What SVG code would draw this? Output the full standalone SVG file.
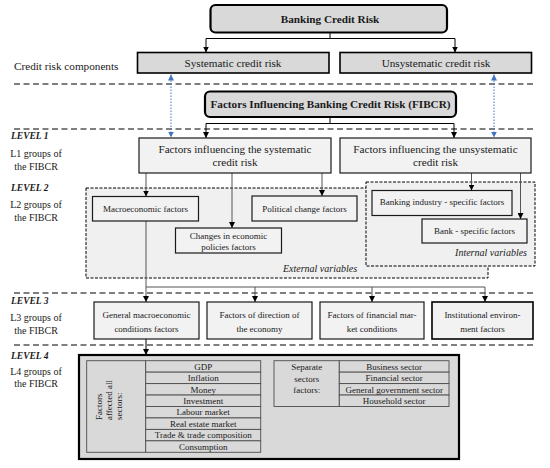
<svg xmlns="http://www.w3.org/2000/svg" width="550" height="468" viewBox="0 0 550 468">
<defs>
<marker id="arr" viewBox="0 0 10 10" refX="10" refY="5" markerWidth="6" markerHeight="6" markerUnits="userSpaceOnUse" orient="auto"><path d="M0,0 L10,5 L0,10 z" fill="#000"/></marker>
<marker id="barr" viewBox="0 0 10 10" refX="10" refY="5" markerWidth="6" markerHeight="6" markerUnits="userSpaceOnUse" orient="auto-start-reverse"><path d="M0,0 L10,5 L0,10 z" fill="#4472c4"/></marker>
</defs>
<style>
text{font-family:"Liberation Serif","Times New Roman",serif;fill:#1a1a1a;}
.c{text-anchor:middle;}
.b{font-weight:bold;}
.lv{font-weight:bold;font-style:italic;font-size:9.5px;}
.gl{font-size:10px;text-anchor:middle;}
.t11{font-size:11.2px;}
.t9{font-size:9px;}
.it{font-style:italic;font-size:10px;}
.main{fill:#d9d9d9;stroke:#000;stroke-width:2.2;}
.comp{fill:#d9d9d9;stroke:#000;stroke-width:1.6;}
.lt{fill:#f2f2f2;stroke:#1a1a1a;stroke-width:1.2;}
.reg{fill:#f0f0f0;stroke:#000;stroke-width:1;stroke-dasharray:3,1.5;}
.cell{fill:#d9d9d9;stroke:#4d4d4d;stroke-width:0.9;}
.lvl{stroke:#000;stroke-width:1.2;stroke-dasharray:6,3.5;fill:none;}
.con{fill:none;stroke:#000;stroke-width:1;}
.gcon{fill:none;stroke:#555;stroke-width:1;}
.blue{fill:none;stroke:#4472c4;stroke-width:1;stroke-dasharray:1.5,1.5;}
</style>

<g id="level-lines">
<line class="lvl" x1="14" y1="84" x2="535" y2="84"/>
<line class="lvl" x1="14" y1="129" x2="535" y2="129"/>
<line class="lvl" x1="14" y1="293" x2="535" y2="293"/>
<line class="lvl" x1="14" y1="345" x2="535" y2="345"/>
</g>

<g id="labels">
<text x="14" y="70" class="t11">Credit risk components</text>
<text x="11" y="139" class="lv">LEVEL 1</text>
<text x="36" y="157" class="gl">L1 groups of</text>
<text x="36" y="169.5" class="gl">the FIBCR</text>
<text x="11" y="191" class="lv">LEVEL 2</text>
<text x="36" y="208" class="gl">L2 groups of</text>
<text x="36" y="221" class="gl">the FIBCR</text>
<text x="11" y="304" class="lv">LEVEL 3</text>
<text x="36" y="320.5" class="gl">L3 groups of</text>
<text x="36" y="334" class="gl">the FIBCR</text>
<text x="11" y="359" class="lv">LEVEL 4</text>
<text x="36" y="375" class="gl">L4 groups of</text>
<text x="36" y="387" class="gl">the FIBCR</text>
</g>

<g id="external-variables">
<rect class="reg" x="86" y="188" width="402" height="90"/>
<text x="320" y="271.5" class="it c">External variables</text>
</g>
<g id="internal-variables">
<rect class="reg" x="366" y="182" width="169" height="84"/>
<text x="527" y="256" class="it" text-anchor="end">Internal variables</text>
</g>

<g id="connectors">
<path class="con" d="M330,32 V38.5 H206 V52.5" marker-end="url(#arr)"/>
<path class="con" d="M330,38.5 H455 V52.5" marker-end="url(#arr)"/>
<path class="con" d="M330,117 V123.5 H206 V138" marker-end="url(#arr)"/>
<path class="con" d="M330,123.5 H454 V138" marker-end="url(#arr)"/>
<path class="blue" d="M171,74.5 V137.5" marker-start="url(#barr)" marker-end="url(#barr)"/>
<path class="blue" d="M494,74.5 V137.5" marker-start="url(#barr)" marker-end="url(#barr)"/>
<path class="gcon" d="M146,173 V196.5" marker-end="url(#arr)"/>
<path class="gcon" d="M232,173 V228" marker-end="url(#arr)"/>
<path class="gcon" d="M322,173 V196" marker-end="url(#arr)"/>
<path class="gcon" d="M471.5,173 V190.5" marker-end="url(#arr)"/>
<path class="gcon" d="M520.5,173 V219" marker-end="url(#arr)"/>
<path class="gcon" d="M146,221 V302" marker-end="url(#arr)"/>
<path class="gcon" d="M146,287 H485 V302" marker-end="url(#arr)"/>
<path class="gcon" d="M255,287 V302" marker-end="url(#arr)"/>
<path class="gcon" d="M372,287 V302" marker-end="url(#arr)"/>
<path class="con" d="M146,339 V355" marker-end="url(#arr)"/>
</g>

<g id="banking-credit-risk">
<rect class="main" x="210.5" y="5" width="236.5" height="27.5" rx="5"/>
<text x="330" y="22.5" class="t11 b c">Banking Credit Risk</text>
</g>
<g id="systematic-credit-risk">
<rect class="comp" x="137.5" y="52.5" width="191.5" height="20.5"/>
<text x="233" y="67" class="t11 c">Systematic credit risk</text>
</g>
<g id="unsystematic-credit-risk">
<rect class="comp" x="340" y="52.5" width="191.5" height="20.5"/>
<text x="436" y="67" class="t11 c">Unsystematic credit risk</text>
</g>
<g id="fibcr">
<rect class="main" x="205" y="91.5" width="251" height="25.5" rx="5"/>
<text x="330.5" y="108" class="t11 b c">Factors Influencing Banking Credit Risk (FIBCR)</text>
</g>

<g id="l1-systematic">
<rect class="lt" x="139" y="138" width="192" height="35"/>
<text x="235" y="152.5" class="t11 c">Factors influencing the systematic</text>
<text x="235" y="166" class="t11 c">credit risk</text>
</g>
<g id="l1-unsystematic">
<rect class="lt" x="340" y="138" width="191" height="35"/>
<text x="435.5" y="152.5" class="t11 c">Factors influencing the unsystematic</text>
<text x="435.5" y="166" class="t11 c">credit risk</text>
</g>

<g id="macroeconomic-factors">
<rect class="lt" x="92.5" y="196.5" width="106" height="24.5"/>
<text x="145.5" y="212" class="t9 c">Macroeconomic factors</text>
</g>
<g id="political-change-factors">
<rect class="lt" x="252" y="196" width="105" height="25"/>
<text x="304.5" y="211.5" class="t9 c">Political change factors</text>
</g>
<g id="changes-economic-policies">
<rect class="lt" x="175.5" y="228" width="106" height="25"/>
<text x="228.5" y="238.5" class="t9 c">Changes in economic</text>
<text x="228.5" y="249.5" class="t9 c">policies factors</text>
</g>
<g id="banking-industry-factors">
<rect class="lt" x="372" y="190.5" width="140" height="25"/>
<text x="442" y="205" class="t9 c">Banking industry - specific factors</text>
</g>
<g id="bank-specific-factors">
<rect class="lt" x="422" y="219" width="105" height="24"/>
<text x="474.5" y="234" class="t9 c">Bank - specific factors</text>
</g>

<g id="general-macro-conditions">
<rect class="lt" x="94" y="302" width="105" height="37"/>
<text x="146.5" y="317.5" class="t9 c">General macroeconomic</text>
<text x="146.5" y="331.5" class="t9 c">conditions factors</text>
</g>
<g id="direction-of-economy">
<rect class="lt" x="207" y="302" width="105" height="37"/>
<text x="259.5" y="317.5" class="t9 c">Factors of direction of</text>
<text x="259.5" y="331.5" class="t9 c">the economy</text>
</g>
<g id="financial-market-conditions">
<rect class="lt" x="320" y="302" width="104" height="37"/>
<text x="372" y="317.5" class="t9 c">Factors of financial mar-</text>
<text x="372" y="331.5" class="t9 c">ket conditions</text>
</g>
<g id="institutional-environment">
<rect class="lt" x="432" y="302" width="101" height="37" style="stroke-width:1.6;stroke:#000"/>
<text x="482.5" y="317.5" class="t9 c">Institutional environ-</text>
<text x="482.5" y="331.5" class="t9 c">ment factors</text>
</g>

<g id="level4">
<rect x="79" y="355" width="380" height="104" fill="#d9d9d9" stroke="#000" stroke-width="2.2"/>
<g id="all-sectors-table">
<rect class="cell" x="86.7" y="360.7" width="59" height="91.6"/>
<text class="t9" transform="translate(102,420) rotate(-90)">Factors</text>
<text class="t9" transform="translate(112,420) rotate(-90)">affected all</text>
<text class="t9" transform="translate(122,420) rotate(-90)">sectors:</text>
<rect class="cell" x="145.7" y="360.7" width="115" height="11.45"/>
<rect class="cell" x="145.7" y="372.15" width="115" height="11.45"/>
<rect class="cell" x="145.7" y="383.6" width="115" height="11.45"/>
<rect class="cell" x="145.7" y="395.05" width="115" height="11.45"/>
<rect class="cell" x="145.7" y="406.5" width="115" height="11.45"/>
<rect class="cell" x="145.7" y="417.95" width="115" height="11.45"/>
<rect class="cell" x="145.7" y="429.4" width="115" height="11.45"/>
<rect class="cell" x="145.7" y="440.85" width="115" height="11.45"/>
<text x="203.2" y="369.6" class="t9 c">GDP</text>
<text x="203.2" y="381.1" class="t9 c">Inflation</text>
<text x="203.2" y="392.5" class="t9 c">Money</text>
<text x="203.2" y="404" class="t9 c">Investment</text>
<text x="203.2" y="415.4" class="t9 c">Labour market</text>
<text x="203.2" y="426.9" class="t9 c">Real estate market</text>
<text x="203.2" y="438.3" class="t9 c">Trade &amp; trade composition</text>
<text x="203.2" y="449.8" class="t9 c">Consumption</text>
</g>
<g id="separate-sectors-table">
<rect class="cell" x="274" y="360.7" width="65.3" height="45.8"/>
<text x="306.7" y="370" class="t9 c">Separate</text>
<text x="306.7" y="381.5" class="t9 c">sectors</text>
<text x="306.7" y="393" class="t9 c">factors:</text>
<rect class="cell" x="339.3" y="360.7" width="109.7" height="11.45"/>
<rect class="cell" x="339.3" y="372.15" width="109.7" height="11.45"/>
<rect class="cell" x="339.3" y="383.6" width="109.7" height="11.45"/>
<rect class="cell" x="339.3" y="395.05" width="109.7" height="11.45"/>
<text x="394.2" y="369.6" class="t9 c">Business sector</text>
<text x="394.2" y="381.1" class="t9 c">Financial sector</text>
<text x="394.2" y="392.5" class="t9 c">General government sector</text>
<text x="394.2" y="404" class="t9 c">Household sector</text>
</g>
</g>
</svg>
